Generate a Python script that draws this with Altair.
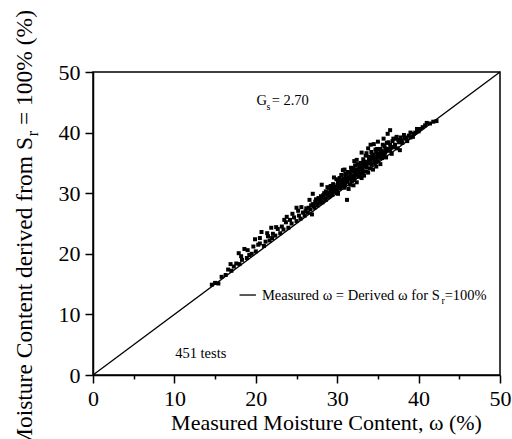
import altair as alt
import pandas as pd

# Measured moisture content (%) and derived moisture content (%)
measured = [
    14.6, 15.0, 15.4, 15.8, 16.3, 16.6, 17.0, 17.3, 17.6, 17.9, 18.0, 18.3, 18.6, 18.9, 19.2,
    19.5, 19.7, 20.0, 20.3, 20.5, 20.7, 21.0, 21.2, 21.4, 21.7, 22.0, 22.1, 22.4, 22.7, 23.0,
    23.2, 23.4, 23.7, 24.0, 24.2, 24.4, 24.7, 25.0, 25.0, 25.3, 25.5, 25.6, 25.8, 26.0, 26.2,
    26.4, 26.6, 26.7, 26.9, 27.0, 27.2, 27.4, 27.6, 27.8, 28.0, 28.1, 28.2, 28.4, 28.5, 28.7,
    28.8, 29.0, 29.1, 29.2, 29.4, 29.5, 29.6, 29.7, 29.9, 30.0, 30.0, 30.1, 30.2, 30.3, 30.4,
    30.5, 30.6, 30.7, 30.8, 30.9, 31.0, 31.1, 31.2, 31.2, 31.3, 31.4, 31.5, 31.6, 31.6, 31.7,
    31.8, 31.9, 32.0, 32.0, 32.1, 32.2, 32.3, 32.4, 32.4, 32.5, 32.6, 32.7, 32.8, 32.9, 33.0,
    33.0, 33.1, 33.2, 33.3, 33.4, 33.5, 33.5, 33.6, 33.7, 33.8, 33.9, 34.0, 34.0, 34.1, 34.2,
    34.3, 34.4, 34.5, 34.6, 34.7, 34.8, 34.9, 35.0, 35.0, 35.2, 35.3, 35.4, 35.5, 35.6, 35.8,
    35.9, 36.0, 36.1, 36.2, 36.3, 36.5, 36.5, 36.7, 36.8, 37.0, 37.2, 37.3, 37.4, 37.6, 37.7,
    37.8, 38.0, 38.3, 38.6, 38.8, 39.0, 39.3, 39.6, 40.0, 40.2, 40.5, 40.8, 41.0, 41.4, 41.8,
    42.2,
    28.3, 28.6, 28.9, 29.3, 29.8, 30.2, 30.5, 30.8, 31.1, 31.4, 31.7, 32.0, 32.3, 32.6, 32.9,
    33.2, 33.5, 33.8, 34.1, 34.4, 34.7, 35.0, 35.3, 35.6, 35.9, 36.2, 36.5, 36.8, 29.0, 29.5,
    30.3, 31.0, 31.8, 32.5, 33.3, 34.2, 34.9,
    26.1, 26.5, 26.8, 27.1, 27.3, 27.5, 27.7, 27.9, 28.0, 28.3, 28.6, 28.9, 29.2, 29.4, 29.7,
    29.9, 30.1, 30.4, 30.6, 30.9, 31.0, 31.3, 31.5, 31.8, 32.0, 32.2, 32.4, 32.7, 32.9, 33.1,
    33.4, 33.6, 33.9, 34.1, 34.3, 34.6, 34.8, 35.1, 35.3, 35.5, 35.8, 36.0, 36.3, 36.6, 36.9,
    37.1, 37.5, 37.9, 38.2, 38.5, 39.0, 39.4, 39.8, 29.6, 30.9, 32.1, 33.0, 33.8, 34.5, 35.7,
    27.0, 24.5, 23.5, 22.5, 21.5, 20.5, 19.0, 18.2, 16.9, 19.9, 21.9, 23.8, 25.2,
]
derived = [
    14.9, 15.2, 15.1, 16.2, 16.5, 17.4, 17.2, 17.9, 18.4, 20.1, 18.3, 19.0, 20.8, 19.3, 19.8,
    20.0, 21.2, 20.4, 21.5, 22.6, 23.6, 21.3, 22.0, 23.4, 22.2, 22.6, 23.3, 23.0, 24.1, 23.4,
    24.5, 24.0, 25.2, 24.3, 25.6, 25.0, 26.0, 25.4, 27.6, 26.3, 25.8, 27.7, 26.8, 26.3, 27.5,
    26.8, 28.9, 27.3, 26.5, 28.2, 27.6, 29.0, 28.0, 28.7, 29.5, 31.4, 28.5, 30.0, 29.1, 29.8,
    31.0, 29.4, 31.0, 30.4, 29.7, 31.5, 30.9, 30.2, 32.3, 30.5, 31.3, 29.9, 32.0, 30.8, 31.7,
    33.0, 31.2, 33.8, 32.4, 30.9, 31.6, 32.8, 28.9, 31.9, 33.5, 30.7, 32.4, 31.4, 33.1, 34.2,
    32.0, 32.9, 31.3, 33.6, 32.4, 34.6, 33.0, 35.5, 31.8, 33.9, 32.7, 34.3, 33.3, 35.0, 32.5,
    34.0, 33.4, 35.6, 32.9, 34.5, 33.6, 36.2, 36.6, 34.9, 33.4, 35.4, 34.1, 36.0, 38.0, 34.7,
    35.7, 33.9, 36.4, 35.0, 37.2, 34.4, 36.0, 35.3, 38.5, 36.6, 34.8, 37.0, 35.8, 38.0, 36.3,
    37.4, 35.9, 38.3, 39.8, 37.0, 40.4, 38.0, 36.5, 38.6, 37.6, 39.0, 39.3, 37.4, 38.4, 37.1,
    39.2, 38.3, 39.0, 38.6, 39.5, 39.2, 39.3, 40.0, 40.2, 40.6, 40.9, 41.2, 41.6, 41.5, 41.8,
    41.9,
    29.3, 28.9, 30.1, 30.0, 30.7, 31.1, 31.5, 31.8, 32.2, 32.6, 32.9, 32.2, 33.5, 33.8, 34.2,
    34.4, 34.8, 35.2, 35.0, 35.9, 35.6, 36.3, 36.0, 36.8, 36.7, 37.3, 37.1, 37.6, 30.8, 30.4,
    32.5, 33.2, 33.7, 34.8, 35.2, 36.8, 37.3,
    27.0, 27.6, 28.0, 27.9, 28.6, 28.3, 29.2, 28.4, 28.9, 29.7, 30.3, 29.6, 31.2, 30.6, 31.0,
    30.3, 31.8, 30.9, 32.2, 31.4, 32.9, 31.9, 33.4, 32.4, 34.1, 33.2, 33.9, 33.1, 34.7, 34.0,
    35.1, 34.3, 36.0, 35.4, 36.3, 35.3, 36.8, 35.9, 37.3, 36.4, 37.8, 37.0, 38.4, 37.5, 39.0,
    38.0, 38.8, 38.7, 39.6, 39.2, 40.0, 39.8, 40.6, 32.6, 33.9, 35.3, 36.7, 37.4, 38.1, 39.0,
    29.9, 26.6, 25.6, 24.4, 22.9, 21.7, 20.6, 19.6, 18.3, 22.4, 24.3, 26.1, 27.1,
]

line_measured = [0, 50]
line_derived = [0, 50]

tick_values = [0, 5, 10, 15, 20, 25, 30, 35, 40, 45, 50]

FONT = "Liberation Serif"

pts = pd.DataFrame({"measured": measured, "derived": derived})
line_df = pd.DataFrame({"measured": line_measured, "derived": line_derived})
one = pd.DataFrame({"a": [0]})

xs = alt.Scale(domain=[0, 50], nice=False, zero=False)
ys = alt.Scale(domain=[0, 50], nice=False, zero=False)

tick_size = {"condition": {"test": "datum.value % 10 === 0", "value": 8}, "value": 4}
label_expr = "datum.value % 10 === 0 ? datum.label : ''"

x_axis = alt.Axis(
    values=tick_values, labelExpr=label_expr, tickSize=tick_size, grid=False,
    title="Measured Moisture Content, ω (%)", titleFont=FONT, titleFontSize=22,
    titleFontWeight="normal", titleColor="black", titleX=233, titleY=54,
    titleAlign="center", titleBaseline="alphabetic",
    labelFont=FONT, labelFontSize=22, labelColor="black", labelPadding=5,
    labelOverlap=False, labelFlush=False,
    tickColor="black", tickWidth=1.5, domainColor="black", domainWidth=1.5,
)
y_axis = alt.Axis(
    values=tick_values, labelExpr=label_expr, tickSize=tick_size, grid=False,
    title=None, labelFont=FONT, labelFontSize=22, labelColor="black", labelPadding=5,
    labelOverlap=False, labelFlush=False,
    tickColor="black", tickWidth=1.5, domainColor="black", domainWidth=1.5,
)

diag = alt.Chart(line_df).mark_line(color="black", strokeWidth=1.3).encode(
    x=alt.X("measured:Q", scale=xs, axis=x_axis),
    y=alt.Y("derived:Q", scale=ys, axis=y_axis),
)

scatter = alt.Chart(pts).mark_point(shape="square", filled=True, color="black", size=16, opacity=1).encode(
    x=alt.X("measured:Q", scale=xs),
    y=alt.Y("derived:Q", scale=ys),
)

def txt(s, xv, yv, size, **kw):
    return alt.Chart(one).mark_text(
        text=s, font=FONT, fontSize=size, color="black", align="left",
        baseline="alphabetic", **kw
    ).encode(x=alt.datum(xv), y=alt.datum(yv))

# Gs annotation
gs_G = txt("G", 20.1, 44.6, 14.5)
gs_s = txt("s", 21.3, 43.8, 10)
gs_v = txt("= 2.70", 21.95, 44.6, 14.5)

# legend line and text
leg_line = alt.Chart(one).mark_rule(color="black", strokeWidth=1.3).encode(
    x=alt.datum(18.0), x2=alt.datum(20.0), y=alt.datum(13.2)
)
leg_t1 = txt("Measured ω = Derived ω for S", 20.75, 12.4, 14.5)
leg_t2 = txt("r", 42.8, 11.7, 10)
leg_t3 = txt("=100%", 43.2, 12.4, 14.5)

tests = txt("451 tests", 10.1, 2.8, 14.5)

# rotated y-axis title with subscript
YT = 23.5
yt_c = alt.Chart(one).mark_text(
    text="= 100% (%)", font=FONT, fontSize=YT, color="black", angle=270,
    align="right", baseline="alphabetic"
).encode(x=alt.value(-61), y=alt.value(-62))
yt_r = alt.Chart(one).mark_text(
    text="r", font=FONT, fontSize=16, color="black", angle=270,
    align="right", baseline="alphabetic"
).encode(x=alt.value(-55), y=alt.value(59))
yt_a = alt.Chart(one).mark_text(
    text="Moisture Content derived from S", font=FONT, fontSize=YT, color="black", angle=270,
    align="right", baseline="alphabetic"
).encode(x=alt.value(-61), y=alt.value(65))

chart = alt.layer(
    diag, scatter, gs_G, gs_s, gs_v, leg_line, leg_t1, leg_t2, leg_t3, tests, yt_c, yt_r, yt_a
).properties(
    width=407, height=303,
    padding={"left": 93, "top": 72, "right": 12, "bottom": 64},
    autosize=alt.AutoSizeParams(type="none"),
    background="white",
).configure_view(stroke="black", strokeWidth=1.5)

chart.save("out.html", embed_options={"renderer": "svg", "actions": False})
